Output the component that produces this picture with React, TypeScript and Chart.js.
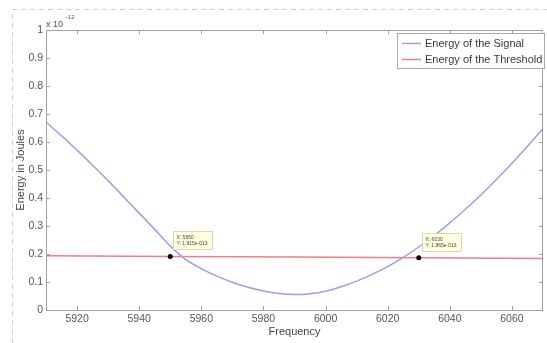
import { useEffect, useRef } from "react";
import { Chart, registerables } from "chart.js";

Chart.register(...registerables);

// Energy values in units of 1e-12 J
const frequencies = [
  5910, 5915, 5920, 5925, 5930, 5935, 5940, 5945, 5950, 5955, 5960, 5965, 5970,
  5975, 5980, 5985, 5990, 5995, 6000, 6005, 6010, 6015, 6020, 6025, 6030, 6035,
  6040, 6045, 6050, 6055, 6060, 6065, 6070,
];
const signalEnergy = [
  0.671, 0.622, 0.571, 0.517, 0.462, 0.404, 0.346, 0.288, 0.228, 0.18, 0.148,
  0.121, 0.099, 0.081, 0.068, 0.059, 0.055, 0.058, 0.067, 0.083, 0.103, 0.127,
  0.155, 0.188, 0.225, 0.266, 0.311, 0.36, 0.411, 0.466, 0.524, 0.585, 0.648,
];
const thresholdFrequencies = [5910, 5950, 5990, 6030, 6070];
const thresholdEnergy = [0.194, 0.1915, 0.189, 0.1865, 0.184];
const tipFrequencies = [5950, 6030];
const tipEnergy = [0.1915, 0.1865];
const tipLabels = [
  ["X: 5950", "Y: 1.915e-013"],
  ["X: 6030", "Y: 1.865e-013"],
];
const xTicks = [5920, 5940, 5960, 5980, 6000, 6020, 6040, 6060];
const xTickLabels = ["5920", "5940", "5960", "5980", "6000", "6020", "6040", "6060"];
const yTicks = [0, 0.1, 0.2, 0.3, 0.4, 0.5, 0.6, 0.7, 0.8, 0.9, 1];
const yTickLabels = ["0", "0.1", "0.2", "0.3", "0.4", "0.5", "0.6", "0.7", "0.8", "0.9", "1"];
const seriesLabels = ["Energy of the Signal", "Energy of the Threshold"];
const seriesColors = ["rgb(158,158,236)", "rgb(240,125,135)"];

const FONT = "'Liberation Sans', Arial, sans-serif";

const decorPlugin = {
  id: "decor",
  beforeDraw(chart: any) {
    const ctx = chart.ctx;
    ctx.save();
    ctx.fillStyle = "#ffffff";
    ctx.fillRect(0, 0, chart.width, chart.height);
    ctx.strokeStyle = "#cfcfcf";
    ctx.lineWidth = 1;
    ctx.setLineDash([5, 4]);
    ctx.beginPath();
    ctx.moveTo(12.5, 343);
    ctx.lineTo(12.5, 9.5);
    ctx.lineTo(547, 9.5);
    ctx.stroke();
    ctx.restore();
  },
  afterDraw(chart: any) {
    const ctx = chart.ctx;
    const a = chart.chartArea;
    const xs = chart.scales.x;
    const ys = chart.scales.y;
    ctx.save();
    // plot box
    ctx.strokeStyle = "#a0a0a0";
    ctx.lineWidth = 1;
    ctx.strokeRect(Math.round(a.left) + 0.5, Math.round(a.top) + 0.5, Math.round(a.right - a.left) - 1, Math.round(a.bottom - a.top));
    // inner ticks
    ctx.beginPath();
    xTicks.forEach((v) => {
      const px = Math.round(xs.getPixelForValue(v)) + 0.5;
      ctx.moveTo(px, a.bottom);
      ctx.lineTo(px, a.bottom - 4);
      ctx.moveTo(px, a.top);
      ctx.lineTo(px, a.top + 4);
    });
    yTicks.slice(1, -1).forEach((v) => {
      const py = Math.round(ys.getPixelForValue(v)) + 0.5;
      ctx.moveTo(a.left, py);
      ctx.lineTo(a.left + 4, py);
      ctx.moveTo(a.right, py);
      ctx.lineTo(a.right - 4, py);
    });
    ctx.stroke();
    // exponent label
    ctx.fillStyle = "#555";
    ctx.textBaseline = "alphabetic";
    ctx.textAlign = "left";
    ctx.font = `9px ${FONT}`;
    ctx.fillText("x 10", a.left, 27);
    ctx.font = `6px ${FONT}`;
    ctx.fillText("-12", a.left + 20, 19);
    // legend
    const lx = 397.5, ly = 33.5, lw = 147, lh = 35;
    ctx.fillStyle = "#ffffff";
    ctx.fillRect(lx, ly, lw, lh);
    ctx.strokeStyle = "#a8a8a8";
    ctx.strokeRect(lx, ly, lw, lh);
    ctx.font = `11px ${FONT}`;
    ctx.textBaseline = "middle";
    seriesLabels.forEach((lab, i) => {
      const y = 43.5 + i * 16;
      ctx.strokeStyle = seriesColors[i];
      ctx.lineWidth = 1.5;
      ctx.beginPath();
      ctx.moveTo(402, y);
      ctx.lineTo(421, y);
      ctx.stroke();
      ctx.fillStyle = "#3a3a3a";
      ctx.fillText(lab, 425, y + 0.5);
    });
    // data tips
    tipFrequencies.forEach((f, i) => {
      const px = xs.getPixelForValue(f);
      const py = ys.getPixelForValue(tipEnergy[i]);
      const bx = Math.round(px + 3) + 0.5;
      const by = Math.round(py - 25) + 0.5;
      ctx.fillStyle = "rgb(255,255,222)";
      ctx.fillRect(bx, by, 39, 18);
      ctx.strokeStyle = "rgb(215,215,185)";
      ctx.lineWidth = 1;
      ctx.strokeRect(bx, by, 39, 18);
      ctx.fillStyle = "#444";
      ctx.font = `5px ${FONT}`;
      ctx.textBaseline = "middle";
      ctx.fillText(tipLabels[i][0], bx + 3, by + 6);
      ctx.fillText(tipLabels[i][1], bx + 3, by + 12.5);
    });
    ctx.restore();
  },
};

export default function App() {
  const ref = useRef<HTMLCanvasElement | null>(null);
  useEffect(() => {
    document.body.style.margin = "0";
    if (!ref.current) return;
    const chart = new Chart(ref.current, {
      type: "line",
      data: {
        datasets: [
          {
            label: seriesLabels[0],
            data: frequencies.map((f, i) => ({ x: f, y: signalEnergy[i] })),
            borderColor: seriesColors[0],
            borderWidth: 1.5,
            pointRadius: 0,
            tension: 0.2,
            order: 1,
          },
          {
            label: seriesLabels[1],
            data: thresholdFrequencies.map((f, i) => ({ x: f, y: thresholdEnergy[i] })),
            borderColor: seriesColors[1],
            borderWidth: 1.5,
            pointRadius: 0,
            tension: 0,
            order: 2,
          },
          {
            label: "tips",
            data: tipFrequencies.map((f, i) => ({ x: f, y: tipEnergy[i] })),
            showLine: false,
            pointRadius: 2.5,
            pointBorderWidth: 0,
            pointBackgroundColor: "#000",
            pointBorderColor: "#000",
            borderWidth: 0,
            order: -1,
          },
        ],
      },
      options: {
        responsive: false,
        animation: false,
        events: [],
        layout: { padding: { left: 0, top: 30, right: 2, bottom: 0 } },
        plugins: { legend: { display: false }, tooltip: { enabled: false } },
        scales: {
          x: {
            type: "linear",
            min: 5910,
            max: 6070,
            afterBuildTicks: (s: any) => {
              s.ticks = xTicks.map((v) => ({ value: v }));
            },
            afterFit: (s: any) => {
              s.height = 33;
            },
            grid: { display: false, drawTicks: false },
            border: { display: false },
            ticks: {
              color: "#555",
              font: { family: FONT, size: 10.5 },
              padding: 3,
              maxRotation: 0,
              callback: (v: any) => {
                const idx = xTicks.indexOf(Number(v));
                return idx >= 0 ? xTickLabels[idx] : "";
              },
            },
            title: { display: true, text: "Frequency", color: "#444", font: { family: FONT, size: 11 }, padding: { top: 0, bottom: 4 } },
          },
          y: {
            type: "linear",
            min: 0,
            max: 1,
            afterBuildTicks: (s: any) => {
              s.ticks = yTicks.map((v) => ({ value: v }));
            },
            afterFit: (s: any) => {
              s.width = 46;
            },
            grid: { display: false, drawTicks: false },
            border: { display: false },
            ticks: {
              color: "#555",
              font: { family: FONT, size: 10.5 },
              padding: 3,
              callback: (v: any) => {
                const idx = yTicks.findIndex((t) => Math.abs(t - Number(v)) < 1e-9);
                return idx >= 0 ? yTickLabels[idx] : "";
              },
            },
            title: { display: true, text: "Energy in Joules", color: "#444", font: { family: FONT, size: 11 }, padding: { top: 14, bottom: 0 } },
          },
        },
      },
      plugins: [decorPlugin],
    } as any);
    return () => chart.destroy();
  }, []);
  return <canvas ref={ref} width={547} height={343} style={{ display: "block" }} />;
}
